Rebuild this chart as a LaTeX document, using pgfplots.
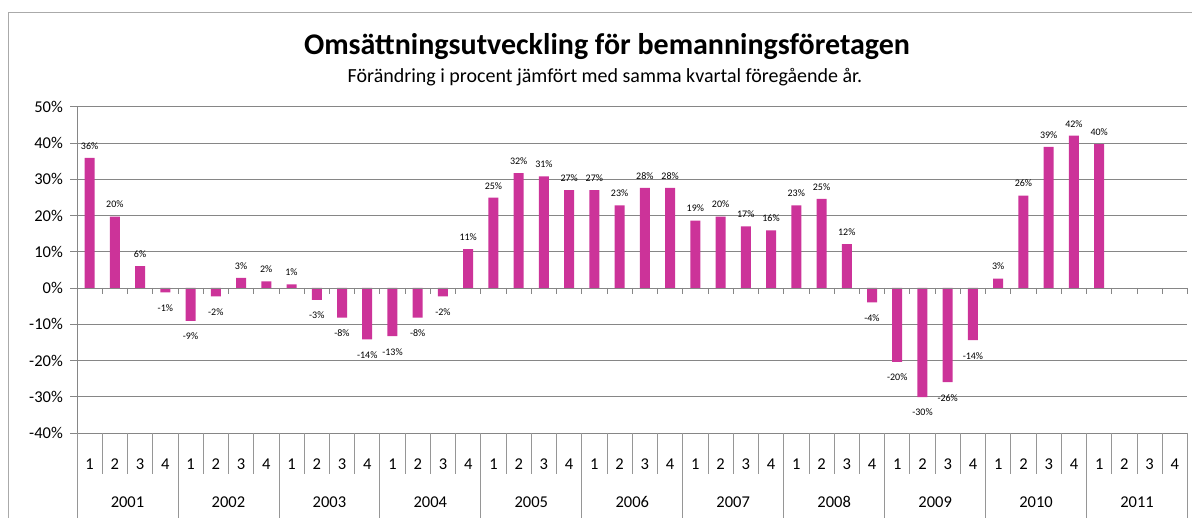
\documentclass[border=0pt]{standalone}
\usepackage{fontspec}
\setmainfont{Carlito}
\usepackage{pgfplots}
\pgfplotsset{compat=1.18}
\definecolor{barc}{RGB}{204,51,153}
\definecolor{gridc}{RGB}{134,134,134}
\definecolor{tabc}{RGB}{150,150,150}
\definecolor{framec}{RGB}{170,170,170}
\begin{document}
\begin{tikzpicture}[x=1pt,y=1pt]
\path[use as bounding box] (0,0) rectangle (1192,518);
\draw[framec, line width=1pt] (8,0) -- (8,505) -- (1192,505);
\node[font=\fontsize{30}{33}\selectfont\bfseries, anchor=base, inner sep=0pt] at (607,463) {Omsättningsutveckling för bemanningsföretagen};
\node[font=\fontsize{20}{22}\selectfont, anchor=base, inner sep=0pt] at (605,435) {Förändring i procent jämfört med samma kvartal föregående år.};
\begin{axis}[at={(77pt,85pt)}, anchor=south west, scale only axis,
  width=1110.5pt, height=326.3pt,
  xmin=0.5, xmax=44.5, ymin=-40, ymax=50,
  axis x line=none, axis y line*=left,
  y axis line style={gridc, line width=0.8pt},
  ytick={-40,-30,-20,-10,0,10,20,30,40,50},
  yticklabels={-40\%,-30\%,-20\%,-10\%,0\%,10\%,20\%,30\%,40\%,50\%},
  ymajorgrids, grid style={gridc, line width=0.8pt},
  major tick length=7pt, tick align=outside,
  tick style={gridc, line width=0.8pt},
  yticklabel style={font=\fontsize{16.5}{18}\selectfont, inner sep=0pt, xshift=-7pt},
  clip=false]
\addplot[ybar, bar shift=0pt, bar width=10pt, fill=barc, draw=none,
  point meta=explicit symbolic, nodes near coords={\pgfplotspointmeta\%},
  every node near coord/.append style={font=\fontsize{10}{11}\selectfont, anchor=center, yshift=12pt, inner sep=0pt, text=black}]
coordinates {
(1,35.9)[36] (2,19.7)[20] (3,6.0)[6]
(7,2.8)[3] (8,1.8)[2] (9,1.0)[1]
(16,10.7)[11] (17,24.9)[25] (18,31.7)[32] (19,30.8)[31] (20,27.0)[27]
(21,27.0)[27] (22,22.8)[23] (23,27.6)[28] (24,27.6)[28]
(25,18.6)[19] (26,19.7)[20] (27,17.0)[17] (28,15.9)[16]
(29,22.8)[23] (30,24.6)[25] (31,12.1)[12]
(37,2.6)[3] (38,25.5)[26] (39,38.9)[39] (40,42.0)[42] (41,39.7)[40]
};
\addplot[ybar, bar shift=0pt, bar width=10pt, fill=barc, draw=none,
  point meta=explicit symbolic, nodes near coords={\pgfplotspointmeta\%},
  every node near coord/.append style={font=\fontsize{10}{11}\selectfont, anchor=center, yshift=-15.5pt, inner sep=0pt, text=black}]
coordinates {
(4,-1.2)[-1] (5,-9.1)[-9] (6,-2.3)[-2]
(10,-3.3)[-3] (11,-8.2)[-8] (12,-14.2)[-14]
(13,-13.3)[-13] (14,-8.2)[-8] (15,-2.3)[-2]
(32,-4.0)[-4] (33,-20.4)[-20] (34,-30.1)[-30] (35,-26.0)[-26] (36,-14.4)[-14]
};
\end{axis}
% zero axis line with ticks
\draw[gridc, line width=0.8pt] (77,230) -- (1187.5,230);
\foreach \i in {0,...,44}{
  \draw[gridc, line width=0.8pt] ({77+25.239*\i},230) -- ++(0,-6);
}
% category table
\foreach \i in {0,...,44}{
  \pgfmathtruncatemacro\m{mod(\i,4)}
  \ifnum\m=0
    \draw[tabc, line width=0.8pt] ({77+25.239*\i},85) -- ({77+25.239*\i},0);
  \else
    \draw[tabc, line width=0.8pt] ({77+25.239*\i},85) -- ({77+25.239*\i},43.5);
  \fi
}
\foreach \i in {0,...,43}{
  \pgfmathtruncatemacro\q{mod(\i,4)+1}
  \node[font=\fontsize{16.5}{18}\selectfont, anchor=base, inner sep=0pt] at ({77+25.239*(\i+0.5)},48) {\q};
}
\foreach \k in {0,...,10}{
  \pgfmathtruncatemacro\yr{2001+\k}
  \node[font=\fontsize{16.5}{18}\selectfont, anchor=base, inner sep=0pt] at ({77+25.239*(4*\k+2)},10) {\yr};
}
\end{tikzpicture}
\end{document}
